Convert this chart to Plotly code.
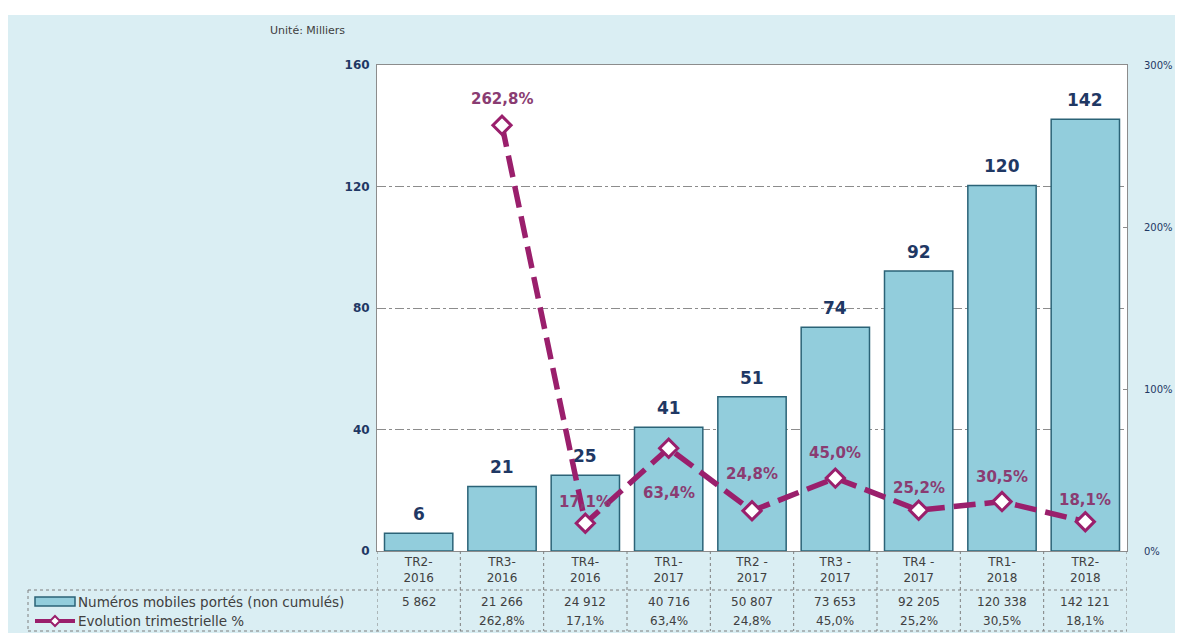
import plotly.graph_objects as go

# ---------------- data ----------------
categories = ["TR2-<br>2016", "TR3-<br>2016", "TR4-<br>2016", "TR1-<br>2017", "TR2 -<br>2017",
              "TR3 -<br>2017", "TR4 -<br>2017", "TR1-<br>2018", "TR2-<br>2018"]
ported_numbers = [5862, 21266, 24912, 40716, 50807, 73653, 92205, 120338, 142121]
quarterly_growth = [None, 262.8, 17.1, 63.4, 24.8, 45.0, 25.2, 30.5, 18.1]
left_ticks = [0, 40, 80, 120, 160]
right_ticks = [0, 100, 200, 300]
right_tick_labels = ["0%", "100%", "200%", "300%"]
bar_name = "Numéros mobiles portés (non cumulés)"
line_name = "Evolution trimestrielle %"
unit_label = "Unité: Milliers"

# ---------------- style ----------------
# the page body adds an 8px margin; figure sized to fit the 1183x641 window
OX, OY = 8, 8
W, H = 1183 - 2 * OX, 641 - 2 * OY
# plot area in page pixels
L, R, T, B = 377, 1127, 65, 551
BG = "#DAEEF3"
BAR_FILL = "#92CDDC"
BAR_LINE = "#2B6377"
PURPLE = "#9A1F6C"
LABEL_PURPLE = "#8A3C72"
NAVY = "#1F3864"
GRID = "#8C8C8C"
TXT = "#404040"
FONT = "DejaVu Sans"
growth_label_shift = [0, 26, 21, -45, 37, 25, 22, 25, 22]


def px_x(x):
    return (x - L) / (R - L)


def px_y(y):
    return (B - y) / (B - T)


bars_k = [v / 1000 for v in ported_numbers]

fig = go.Figure()
fig.add_trace(go.Bar(
    x=categories, y=bars_k, name=bar_name,
    marker=dict(color=BAR_FILL, line=dict(color=BAR_LINE, width=1.5)),
    yaxis="y", hoverinfo="skip",
))
fig.add_trace(go.Scatter(
    x=categories, y=quarterly_growth, name=line_name, yaxis="y2",
    mode="lines+markers", connectgaps=False,
    line=dict(color=PURPLE, width=5.5, dash="22px,9px"),
    marker=dict(symbol="diamond", size=14, color="white", line=dict(color=PURPLE, width=3)),
    hoverinfo="skip",
))

annotations = []
shapes = []

# bar value labels
for c, v in zip(categories, bars_k):
    annotations.append(dict(x=c, y=v, xref="x", yref="y", text=f"<b>{round(v)}</b>",
                            showarrow=False, yanchor="middle", yshift=19,
                            font=dict(family=FONT, size=17, color=NAVY)))
# growth labels
for c, g, s in zip(categories, quarterly_growth, growth_label_shift):
    if g is None:
        continue
    annotations.append(dict(x=c, y=g, xref="x", yref="y2",
                            text=f"<b>{g:.1f}%</b>".replace(".", ","),
                            showarrow=False, yanchor="middle", yshift=s,
                            font=dict(family=FONT, size=15, color=LABEL_PURPLE)))

# data table values
row1_y, row2_y = px_y(602), px_y(621)
for i, (c, v, g) in enumerate(zip(categories, ported_numbers, quarterly_growth)):
    annotations.append(dict(x=i, y=row1_y, xref="x", yref="paper", yanchor="middle",
                            text=f"{v:,}".replace(",", " "), showarrow=False,
                            font=dict(family=FONT, size=12, color=TXT)))
    if g is not None:
        annotations.append(dict(x=i, y=row2_y, xref="x", yref="paper", yanchor="middle",
                                text=f"{g:.1f}%".replace(".", ","), showarrow=False,
                                font=dict(family=FONT, size=12, color=TXT)))

# legend texts inside table
annotations.append(dict(x=px_x(76), y=row1_y, xref="paper", yref="paper", xanchor="left",
                        yanchor="middle", text=bar_name, showarrow=False,
                        font=dict(family=FONT, size=13.5, color=TXT)))
annotations.append(dict(x=px_x(76), y=row2_y, xref="paper", yref="paper", xanchor="left",
                        yanchor="middle", text=line_name, showarrow=False,
                        font=dict(family=FONT, size=13.5, color=TXT)))
annotations.append(dict(x=px_x(268), y=px_y(30), xref="paper", yref="paper", xanchor="left",
                        yanchor="middle", text=unit_label, showarrow=False,
                        font=dict(family=FONT, size=11, color=TXT)))

# white top band of the picture
shapes.append(dict(type="rect", xref="paper", yref="paper", x0=px_x(0), x1=px_x(1200),
                   y0=px_y(15), y1=px_y(0), fillcolor="white", line=dict(width=0), layer="below"))

# table grid
tline = dict(color="#7F7F7F", width=1, dash="3px,3px")
TB = 631
for k in range(len(categories) + 1):
    shapes.append(dict(type="line", xref="x", yref="paper", x0=k - 0.5, x1=k - 0.5,
                       y0=0, y1=px_y(TB), line=tline))
for yy in (590, TB):
    shapes.append(dict(type="line", xref="paper", yref="paper", x0=px_x(28), x1=1,
                       y0=px_y(yy), y1=px_y(yy), line=tline))
shapes.append(dict(type="line", xref="paper", yref="paper", x0=px_x(28), x1=px_x(28),
                   y0=px_y(590), y1=px_y(TB), line=tline))

# legend symbols
shapes.append(dict(type="rect", xref="paper", yref="paper", x0=px_x(35), x1=px_x(75),
                   y0=px_y(606), y1=px_y(597), fillcolor=BAR_FILL, line=dict(color=BAR_LINE, width=1.5)))
shapes.append(dict(type="line", xref="paper", yref="paper", x0=px_x(35), x1=px_x(75),
                   y0=row2_y, y1=row2_y, line=dict(color=PURPLE, width=4)))
cx, cy = px_x(55), row2_y
dx, dy = 5 / (R - L), 5 / (B - T)
shapes.append(dict(type="path", xref="paper", yref="paper",
                   path=f"M {cx},{cy + dy} L {cx + dx},{cy} L {cx},{cy - dy} L {cx - dx},{cy} Z",
                   fillcolor="white", line=dict(color=PURPLE, width=2)))

fig.update_layout(
    width=W, height=H,
    margin=dict(l=L - OX, r=W - (R - OX), t=T - OY, b=H - (B - OY), pad=0, autoexpand=False),
    paper_bgcolor=BG, plot_bgcolor="white",
    showlegend=False, bargap=0.18,
    font=dict(family=FONT, color=TXT),
    xaxis=dict(type="category", range=[-0.5, len(categories) - 0.5], showgrid=False,
               showline=True, linecolor="#8C8C8C", linewidth=1, mirror=True, automargin=False,
               ticks="", tickfont=dict(family=FONT, size=12, color=TXT)),
    yaxis=dict(range=[0, 160], tickvals=left_ticks, showgrid=True, gridcolor=GRID,
               griddash="dashdot", gridwidth=1, showline=True, linecolor="#8C8C8C",
               linewidth=1, mirror=True, zeroline=False, ticks="", automargin=False,
               ticklabelstandoff=4,
               tickfont=dict(family=FONT, size=12, color=NAVY, weight="bold")),
    yaxis2=dict(range=[0, 300], overlaying="y", side="right", tickvals=right_ticks,
                ticktext=right_tick_labels, showgrid=False, zeroline=False, showline=True,
                linecolor="#8C8C8C", ticks="inside", ticklen=4, tickcolor="#8C8C8C",
                ticklabelstandoff=14, automargin=False,
                tickfont=dict(family=FONT, size=10, color=NAVY)),
    annotations=annotations, shapes=shapes,
)

fig.write_html("out.html")
